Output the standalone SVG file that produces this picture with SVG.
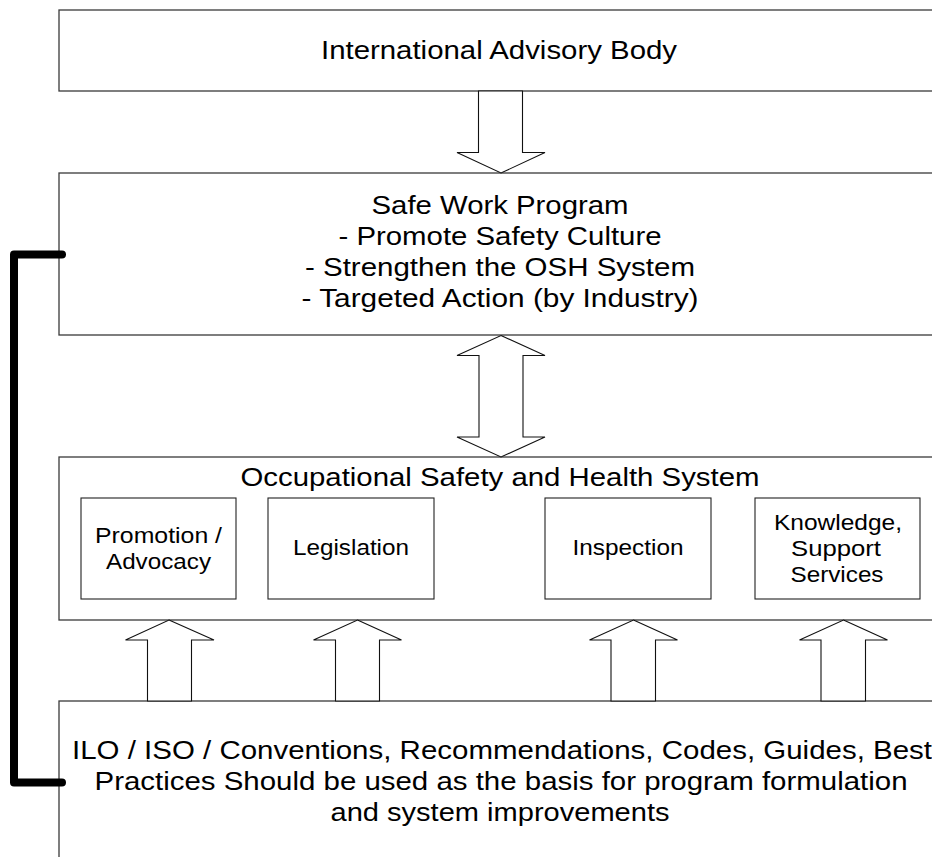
<svg xmlns="http://www.w3.org/2000/svg" width="932" height="857" viewBox="0 0 932 857">
<style>
.box{fill:#fff;stroke:#3a3a3a;stroke-width:1.3}
.sub{fill:#fff;stroke:#222;stroke-width:1.1}
.arr{fill:#fff;stroke:#111;stroke-width:1.1;stroke-linejoin:miter}
.t{font-family:"Liberation Sans",Arial,sans-serif;font-size:25.5px;fill:#000;text-anchor:middle}
.s{font-family:"Liberation Sans",Arial,sans-serif;font-size:22px;fill:#000;text-anchor:middle}
.br{fill:none;stroke:#000;stroke-width:8;stroke-linecap:round;stroke-linejoin:round}
</style>
<rect width="932" height="857" fill="#fff"/>
<g id="international-advisory-body">
<rect class="box" x="59" y="10" width="900" height="81"/>
<text class="t" x="499" y="59" textLength="356" lengthAdjust="spacingAndGlyphs">International Advisory Body</text>
</g>
<g id="safe-work-program">
<rect class="box" x="59" y="173" width="900" height="162"/>
<text class="t" x="500" y="214" textLength="257" lengthAdjust="spacingAndGlyphs">Safe Work Program</text>
<text class="t" x="500" y="245" textLength="323" lengthAdjust="spacingAndGlyphs">- Promote Safety Culture</text>
<text class="t" x="500" y="276" textLength="390" lengthAdjust="spacingAndGlyphs">- Strengthen the OSH System</text>
<text class="t" x="500" y="307" textLength="397" lengthAdjust="spacingAndGlyphs">- Targeted Action (by Industry)</text>
</g>
<g id="osh-system">
<rect class="box" x="59" y="457" width="900" height="163"/>
<text class="t" x="500" y="486" textLength="519" lengthAdjust="spacingAndGlyphs">Occupational Safety and Health System</text>
</g>
<g id="promotion-advocacy">
<rect class="sub" x="81" y="498" width="155" height="101"/>
<text class="s" x="158.5" y="543" textLength="127" lengthAdjust="spacingAndGlyphs">Promotion /</text>
<text class="s" x="158.5" y="569" textLength="105" lengthAdjust="spacingAndGlyphs">Advocacy</text>
</g>
<g id="legislation">
<rect class="sub" x="268" y="498" width="166" height="101"/>
<text class="s" x="351" y="555" textLength="116" lengthAdjust="spacingAndGlyphs">Legislation</text>
</g>
<g id="inspection">
<rect class="sub" x="545" y="498" width="166" height="101"/>
<text class="s" x="628" y="555" textLength="111" lengthAdjust="spacingAndGlyphs">Inspection</text>
</g>
<g id="knowledge-support-services">
<rect class="sub" x="755" y="498" width="165" height="101"/>
<text class="s" x="838" y="530" textLength="128" lengthAdjust="spacingAndGlyphs">Knowledge,</text>
<text class="s" x="836" y="556" textLength="90" lengthAdjust="spacingAndGlyphs">Support</text>
<text class="s" x="837" y="582" textLength="93" lengthAdjust="spacingAndGlyphs">Services</text>
</g>
<g id="ilo-iso-basis">
<rect class="box" x="59" y="701" width="900" height="200"/>
<text class="t" x="502" y="759" textLength="860" lengthAdjust="spacingAndGlyphs">ILO / ISO / Conventions, Recommendations, Codes, Guides, Best</text>
<text class="t" x="501" y="790" textLength="813" lengthAdjust="spacingAndGlyphs">Practices Should be used as the basis for program formulation</text>
<text class="t" x="500" y="821" textLength="339" lengthAdjust="spacingAndGlyphs">and system improvements</text>
</g>
<g id="connectors">
<polygon class="arr" points="478.5,91 522.5,91 522.5,152.5 545,152.5 501,173 457,152.5 478.5,152.5"/>
<polygon class="arr" points="501,335.5 545,355.5 523,355.5 523,437 545,437 501,457 457,437 479,437 479,355.5 457,355.5"/>
<polygon class="arr" points="169,620 214,640 191.5,640 191.5,701 147.5,701 147.5,640 125.5,640"/>
<polygon class="arr" points="357.5,620 401.5,640 379.5,640 379.5,701 335.5,701 335.5,640 313.5,640"/>
<polygon class="arr" points="633.5,620 677.5,640 655.5,640 655.5,701 611,701 611,640 589.5,640"/>
<polygon class="arr" points="843.5,620 887.5,640 865.5,640 865.5,701 821,701 821,640 799.5,640"/>
<path class="br" d="M62,254.5 H14 V782.5 H62"/>
</g>
</svg>
